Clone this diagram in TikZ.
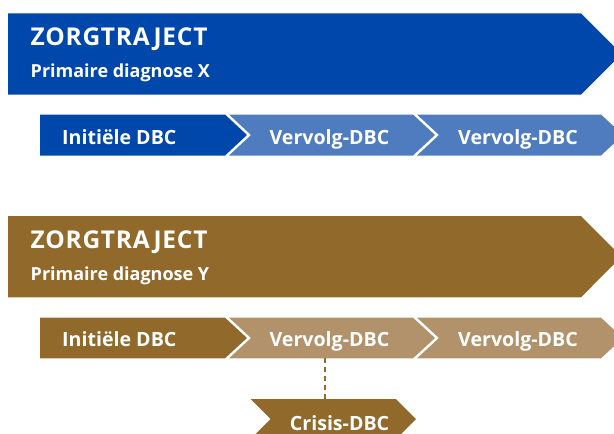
\documentclass[tikz,border=0pt]{standalone}
\usepackage{fontspec}
\setmainfont{Open Sans}
\usetikzlibrary{calc}
\definecolor{dblue}{RGB}{0,71,171}
\definecolor{lblue}{RGB}{79,124,190}
\definecolor{dbrown}{RGB}{144,105,43}
\definecolor{lbrown}{RGB}{178,146,106}
\tikzset{
  lbl/.style={anchor=base west, inner sep=0pt, text=white, font=\bfseries\fontsize{19.6}{22}\selectfont},
  ttl/.style={anchor=base west, inner sep=0pt, text=white, font=\bfseries\fontsize{24.5}{28}\selectfont\addfontfeatures{LetterSpace=3}},
  sub/.style={anchor=base west, inner sep=0pt, text=white, font=\bfseries\fontsize{18}{20}\selectfont},
  link/.style={dbrown, line width=2.5pt, dash pattern=on 5pt off 4pt}
}
\begin{document}
\begin{tikzpicture}[x=1pt,y=-1pt]
\useasboundingbox (0,0) rectangle (614,434);
\clip (0,0) rectangle (614,434);
% ---- blue trajectory
\fill[dblue] (8,13.3) -- (581,13.3) -- (621.5,54) -- (581,94.5) -- (8,94.5) -- cycle;
\node[ttl] (zx) at (30.5,45.7) {ZORGTRAJECT};
\node[sub] (px) at (30.5,77.3) {Primaire diagnose X};
\fill[dblue] (40,114.5) -- (225,114.5) -- (247,135) -- (225,155.5) -- (40,155.5) -- cycle;
\fill[lblue] (229,114.5) -- (413,114.5) -- (435,135) -- (413,155.5) -- (229,155.5) -- (251,135) -- cycle;
\fill[lblue] (417,114.5) -- (601,114.5) -- (623,135) -- (601,155.5) -- (417,155.5) -- (439,135) -- cycle;
\node[lbl] (ix) at (62,144) {Initiële DBC};
\node[lbl] (vx1) at (269.4,144) {Vervolg-DBC};
\node[lbl] (vx2) at (458,144) {Vervolg-DBC};
% ---- brown trajectory
\fill[dbrown] (8,216) -- (581,216) -- (621.5,256.6) -- (581,297.3) -- (8,297.3) -- cycle;
\node[ttl] (zy) at (30.5,248.3) {ZORGTRAJECT};
\node[sub] (py) at (30.5,280) {Primaire diagnose Y};
\fill[dbrown] (40,317.7) -- (225,317.7) -- (247,338) -- (225,358.3) -- (40,358.3) -- cycle;
\fill[lbrown] (229,317.7) -- (413,317.7) -- (435,338) -- (413,358.3) -- (229,358.3) -- (251,338) -- cycle;
\fill[lbrown] (417,317.7) -- (601,317.7) -- (623,338) -- (601,358.3) -- (417,358.3) -- (439,338) -- cycle;
\node[lbl] (iy) at (62,346.7) {Initiële DBC};
\node[lbl] (vy1) at (269.4,346.7) {Vervolg-DBC};
\node[lbl] (vy2) at (458,346.7) {Vervolg-DBC};
% ---- crisis
\fill[dbrown] (250.6,399) -- (396,399) -- (416,419) -- (396,439) -- (250.6,439) -- (270.6,419) -- cycle;
\node[lbl] (cr) at (289.7,430) {Crisis-DBC};
\coordinate (vbot) at (325,358.3);
\coordinate (ctop) at (325,399);
\draw[link] (vbot) -- (ctop);
\end{tikzpicture}
\end{document}
